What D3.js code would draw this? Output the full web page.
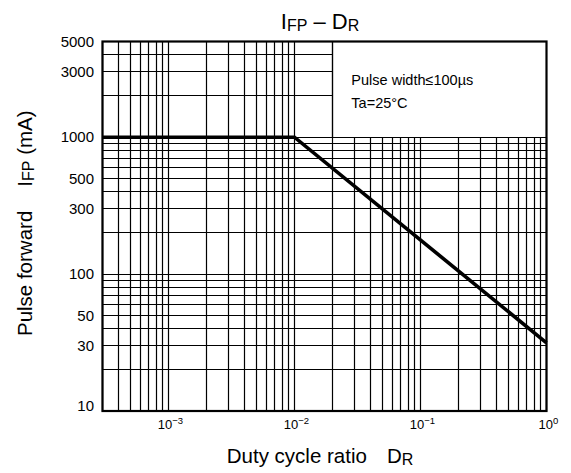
<!DOCTYPE html>
<html>
<head>
<meta charset="utf-8">
<script src="https://cdn.jsdelivr.net/npm/d3@7"></script>
<style>
  html, body { margin: 0; padding: 0; background: #fff; }
  svg { display: block; font-family: "Liberation Sans", Arial, Helvetica, sans-serif; }
</style>
</head>
<body>
<svg id="chart" width="571" height="473"></svg>
<script>
// ---- data ----
const dutyRatio = [0.0003, 0.01, 1];          // D_R
const pulseCurrent = [1000, 1000, 31.5];      // I_FP (mA)
const xDomain = [0.0003, 1];
const yDomain = [10, 5000];
const xTickValues = [0.001, 0.01, 0.1, 1];
const xTickExponents = ["\u22123", "\u22122", "\u22121", "0"];
const yTickValues = [10, 30, 50, 100, 300, 500, 1000, 3000, 5000];
const noteCorner = [0.02, 1000];              // lower-left corner of the note box (x, y data)
const noteLines = ["Pulse width\u2264100\u00b5s", "Ta=25\u00b0C"];

// ---- layout ----
const svg = d3.select("#chart");
const W = 571, H = 473;
const plot = { left: 102.5, right: 546.5, top: 41.5, bottom: 411 };

const x = d3.scaleLog().domain(xDomain).range([plot.left, plot.right]);
const y = d3.scaleLog().domain(yDomain).range([plot.bottom, plot.top]);
const px = v => Math.round(v - 0.5) + 0.5;

svg.append("rect").attr("width", W).attr("height", H).attr("fill", "#fff");

// grid values: every 1..9 x 10^k inside the domains
function logGrid(domain) {
  const out = [];
  for (let k = -5; k <= 4; k++) {
    for (let m = 1; m <= 9; m++) {
      const v = +(m * Math.pow(10, k)).toPrecision(6);
      if (v >= domain[0] * 0.999 && v <= domain[1] * 1.001) out.push(v);
    }
  }
  return out;
}
const xGrid = logGrid(xDomain);
const yGrid = logGrid(yDomain);

const g = svg.append("g");

// vertical grid lines (stop at note box bottom when inside note column)
g.selectAll("line.vx").data(xGrid).enter().append("line")
  .attr("class", "vx")
  .attr("x1", d => px(x(d))).attr("x2", d => px(x(d)))
  .attr("y1", y(yDomain[0]))
  .attr("y2", d => d > noteCorner[0] * 1.001 ? y(noteCorner[1]) : y(yDomain[1]))
  .attr("stroke", "#000").attr("stroke-width", 1.2);

// horizontal grid lines (stop at note box left edge when above note bottom)
g.selectAll("line.hy").data(yGrid).enter().append("line")
  .attr("class", "hy")
  .attr("y1", d => px(y(d))).attr("y2", d => px(y(d)))
  .attr("x1", x(xDomain[0]))
  .attr("x2", d => d > noteCorner[1] * 1.001 ? x(noteCorner[0]) : x(xDomain[1]))
  .attr("stroke", "#000").attr("stroke-width", 1.2);

// note box left edge
g.append("line")
  .attr("x1", px(x(noteCorner[0]))).attr("x2", px(x(noteCorner[0])))
  .attr("y1", y(noteCorner[1])).attr("y2", y(yDomain[1]))
  .attr("stroke", "#000").attr("stroke-width", 1.2);

// plot frame
svg.append("rect")
  .attr("x", x(xDomain[0])).attr("y", y(yDomain[1]))
  .attr("width", x(xDomain[1]) - x(xDomain[0]))
  .attr("height", y(yDomain[0]) - y(yDomain[1]))
  .attr("fill", "none").attr("stroke", "#000").attr("stroke-width", 2.2);

// data line
const line = d3.line().x((d, i) => x(dutyRatio[i])).y((d, i) => y(pulseCurrent[i]));
svg.append("path")
  .attr("d", line(dutyRatio))
  .attr("fill", "none").attr("stroke", "#000").attr("stroke-width", 3.6)
  .attr("stroke-linejoin", "miter");

// note text
const noteX = x(noteCorner[0]) + 19;
svg.selectAll("text.note").data(noteLines).enter().append("text")
  .attr("class", "note")
  .attr("x", noteX)
  .attr("y", (d, i) => 84.5 + i * 23.3)
  .attr("font-size", 14.5).attr("fill", "#000")
  .text(d => d);

// y tick labels
svg.selectAll("text.ytick").data(yTickValues).enter().append("text")
  .attr("class", "ytick")
  .attr("x", 94)
  .attr("y", d => y(d) + (d === yDomain[0] ? -5 : 0))
  .attr("dy", "0.35em")
  .attr("text-anchor", "end")
  .attr("font-size", 15).attr("fill", "#000")
  .text(d => d);

// x tick labels (10^k)
const xt = svg.selectAll("text.xtick").data(xTickValues).enter().append("text")
  .attr("class", "xtick")
  .attr("x", d => x(d) + 2)
  .attr("y", 428.5)
  .attr("text-anchor", "middle")
  .attr("font-size", 13).attr("fill", "#000");
xt.append("tspan").text("10");
xt.append("tspan").attr("font-size", 9.5).attr("dy", -5).text((d, i) => xTickExponents[i]);

// title
const title = svg.append("text")
  .attr("x", 320).attr("y", 28.5)
  .attr("text-anchor", "middle").attr("font-size", 22).attr("fill", "#000");
title.append("tspan").text("I");
title.append("tspan").attr("font-size", 16).attr("dy", 2.3).text("FP");
title.append("tspan").attr("dy", -2.3).text(" \u2013 D");
title.append("tspan").attr("font-size", 16).attr("dy", 2.3).text("R");

// x axis title
const xTitle = svg.append("text")
  .attr("x", 320).attr("y", 462.7)
  .attr("text-anchor", "middle").attr("font-size", 20.5).attr("fill", "#000");
xTitle.append("tspan").text("Duty cycle ratio");
xTitle.append("tspan").attr("dx", 20).text("D");
xTitle.append("tspan").attr("font-size", 16).attr("dy", 2.3).text("R");

// y axis title
const yTitle = svg.append("text")
  .attr("transform", "translate(32," + ((plot.top + plot.bottom) / 2 - 3) + ") rotate(-90)")
  .attr("text-anchor", "middle").attr("font-size", 20.5).attr("fill", "#000");
yTitle.append("tspan").text("Pulse forward");
yTitle.append("tspan").attr("dx", 24).text("I");
yTitle.append("tspan").attr("font-size", 16).attr("dy", 2.3).text("FP");
yTitle.append("tspan").attr("dy", -2.3).text(" (mA)");
</script>
</body>
</html>
